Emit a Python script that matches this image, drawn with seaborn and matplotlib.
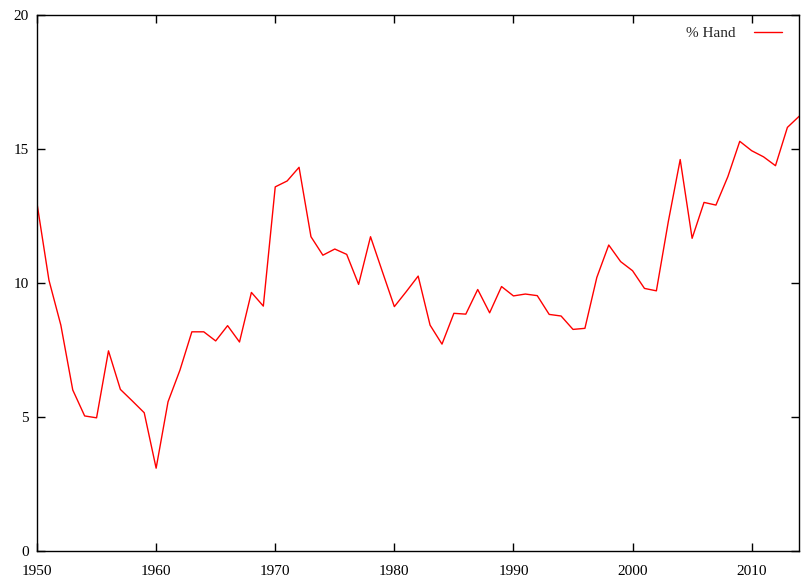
import pandas as pd
import numpy as np
import seaborn as sns
import matplotlib
matplotlib.use("Agg")
import matplotlib.pyplot as plt

# yearly share
years = list(range(1950, 2015))
hand = [12.97, 10.11, 8.43, 6.01, 5.04, 4.97, 7.47, 6.03, 5.60, 5.16,
        3.09, 5.57, 6.75, 8.18, 8.18, 7.84, 8.41, 7.80, 9.65, 9.14,
        13.59, 13.81, 14.32, 11.73, 11.04, 11.27, 11.07, 9.95, 11.73, 10.42,
        9.12, 9.68, 10.26, 8.43, 7.72, 8.87, 8.84, 9.76, 8.89, 9.87,
        9.52, 9.59, 9.53, 8.83, 8.77, 8.27, 8.31, 10.21, 11.42, 10.80,
        10.46, 9.80, 9.71, 12.29, 14.61, 11.67, 13.01, 12.91, 13.97, 15.29,
        14.94, 14.71, 14.38, 15.81, 16.23]
x_ticks = [1950, 1960, 1970, 1980, 1990, 2000, 2010]
y_ticks = [0, 5, 10, 15, 20]

df = pd.DataFrame({"year": years, "% Hand": hand})

sns.set_style("ticks")
plt.rcParams["font.family"] = ["Liberation Serif", "DejaVu Serif"]

fig = plt.figure(figsize=(8.1, 5.82), dpi=100)
ax = fig.add_axes([0.0457, 0.0533, 0.9411, 0.9207])

sns.lineplot(data=df, x="year", y="% Hand", color="#ff0000", linewidth=1,
             label="% Hand", ax=ax)

ax.set_xlim(1950, 2014)
ax.set_ylim(0, 20)
ax.set_xticks(x_ticks)
ax.set_yticks(y_ticks)
ax.set_xlabel("")
ax.set_ylabel("")
for s in ax.spines.values():
    s.set_visible(True)
    s.set_linewidth(1)
    s.set_color("black")
ax.tick_params(direction="in", length=6, width=1, top=True, right=True,
               labelsize=11, colors="black")
ax.tick_params(axis="x", pad=10)
ax.tick_params(axis="y", pad=6)

ax.legend(loc="upper right", frameon=False, markerfirst=False, fontsize=11,
          handlelength=1.8, handletextpad=1.2, borderaxespad=0,
          bbox_to_anchor=(0.985, 0.99))

fig.savefig("out.png", dpi=100)
